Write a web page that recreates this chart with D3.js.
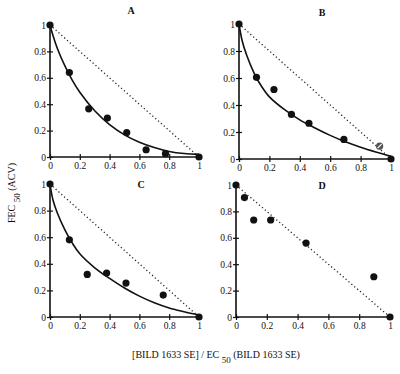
<!DOCTYPE html>
<html><head><meta charset="utf-8">
<script src="https://cdn.jsdelivr.net/npm/d3@7"></script>
<style>body{margin:0;background:#fff}svg{display:block}text{font-family:"Liberation Serif","Times New Roman",serif;fill:#111}</style>
</head><body>
<svg id="c" width="400" height="374"></svg>
<script>
const panelNames = ["A","B","C","D"];
const tickValues = [0,0.2,0.4,0.6,0.8,1];
const tickLabels = ["0","0.2","0.4","0.6","0.8","1"];

const ptsA_x = [0,0.13,0.26,0.385,0.515,0.645,0.775,1];
const ptsA_y = [1,0.64,0.365,0.295,0.185,0.055,0.025,0];
const ptsB_x = [0,0.115,0.23,0.345,0.46,0.69,0.925,1];
const ptsB_y = [1,0.605,0.515,0.33,0.265,0.145,0.095,0];
const ptsC_x = [0,0.13,0.25,0.38,0.51,0.76,1];
const ptsC_y = [1,0.58,0.32,0.33,0.255,0.165,0];
const ptsD_x = [0,0.055,0.115,0.225,0.455,0.895,1];
const ptsD_y = [1,0.905,0.735,0.735,0.56,0.305,0];

const curveX = [0,0.02,0.05,0.1,0.15,0.2,0.3,0.4,0.5,0.6,0.7,0.8,0.9,1];
const curveA = [1,0.92,0.82,0.69,0.58,0.49,0.35,0.245,0.168,0.112,0.072,0.042,0.026,0.02];
const curveB = [1,0.88,0.77,0.635,0.535,0.46,0.365,0.29,0.23,0.175,0.127,0.087,0.052,0.02];
const curveC = [1,0.88,0.78,0.655,0.555,0.475,0.37,0.29,0.218,0.157,0.107,0.068,0.04,0.015];

const panels = [
  {name:"A", px:ptsA_x, py:ptsA_y, curve:curveA, x0:50, x1:199, yT:25, yB:157, lx:131, ly:14, hollow:-1},
  {name:"B", px:ptsB_x, py:ptsB_y, curve:curveB, x0:239, x1:391, yT:24, yB:159, lx:322, ly:16, hollow:6},
  {name:"C", px:ptsC_x, py:ptsC_y, curve:curveC, x0:50, x1:199, yT:184, yB:317, lx:141, ly:188, hollow:-1},
  {name:"D", px:ptsD_x, py:ptsD_y, curve:null, x0:236, x1:390, yT:185, yB:317, lx:322, ly:189, hollow:-1}
];

const svg = d3.select("#c");

panels.forEach(p => {
  const x = d3.scaleLinear().domain([0,1]).range([p.x0,p.x1]);
  const y = d3.scaleLinear().domain([0,1]).range([p.yB,p.yT]);
  const g = svg.append("g");

  const xa = g.append("g").attr("transform",`translate(0,${p.yB})`)
    .call(d3.axisBottom(x).tickValues(tickValues).tickFormat((d,i)=>tickLabels[i]).tickSize(3).tickPadding(2));
  const ya = g.append("g").attr("transform",`translate(${p.x0},0)`)
    .call(d3.axisLeft(y).tickValues(tickValues).tickFormat((d,i)=>tickLabels[i]).tickSize(3).tickPadding(1));
  [xa,ya].forEach(a=>{
    a.select(".domain").attr("stroke","#111").attr("stroke-width",1.6);
    a.selectAll(".tick line").attr("stroke","#111").attr("stroke-width",1.2);
    a.selectAll(".tick text").attr("font-family","Liberation Serif, serif").attr("font-size",9.5).attr("fill","#111");
  });
  xa.selectAll(".tick").append("line").attr("y1",0).attr("y2",-3).attr("stroke","#111").attr("stroke-width",1.2);
  ya.selectAll(".tick").append("line").attr("x1",0).attr("x2",3).attr("stroke","#111").attr("stroke-width",1.2);
  xa.select(".domain").attr("d",`M${p.x0},0H${p.x1}`);
  ya.select(".domain").attr("d",`M0,${p.yB}V${p.yT}`);

  g.append("line").attr("x1",x(0)).attr("y1",y(1)).attr("x2",x(1)).attr("y2",y(0))
    .attr("stroke","#222").attr("stroke-width",1.3).attr("stroke-dasharray","1.2,2.6");

  if (p.curve) {
    const line = d3.line().x((d,i)=>x(curveX[i])).y(d=>y(d)).curve(d3.curveCatmullRom.alpha(0.5));
    g.append("path").attr("d",line(p.curve)).attr("fill","none").attr("stroke","#111").attr("stroke-width",1.6);
  }

  g.selectAll("circle.pt").data(p.px).enter().append("circle")
    .attr("cx",d=>x(d)).attr("cy",(d,i)=>y(p.py[i])).attr("r",3.6)
    .attr("fill",(d,i)=>i===p.hollow?"#555":"#111");
  if (p.hollow>=0) {
    const cx = x(p.px[p.hollow]), cy = y(p.py[p.hollow]);
    g.append("line").attr("x1",cx-2).attr("y1",cy+2).attr("x2",cx+2).attr("y2",cy-2)
      .attr("stroke","#fff").attr("stroke-width",1.2);
  }

  g.append("text").attr("x",p.lx).attr("y",p.ly).attr("text-anchor","middle")
    .attr("font-weight","bold").attr("font-size",10).text(p.name);
});

const yt = svg.append("text").attr("transform","translate(15,193) rotate(-90)")
  .attr("text-anchor","middle").attr("font-size",10);
yt.append("tspan").text("FEC ");
yt.append("tspan").attr("dy",5).attr("font-size",9).text("50");
yt.append("tspan").attr("dy",-5).text(" (ACV)");

const xt = svg.append("text").attr("x",216).attr("y",358).attr("text-anchor","middle").attr("font-size",10);
xt.append("tspan").text("[BILD 1633 SE] / EC ");
xt.append("tspan").attr("dy",5).attr("font-size",9).text("50");
xt.append("tspan").attr("dy",-5).text(" (BILD 1633 SE)");
</script>
</body></html>
